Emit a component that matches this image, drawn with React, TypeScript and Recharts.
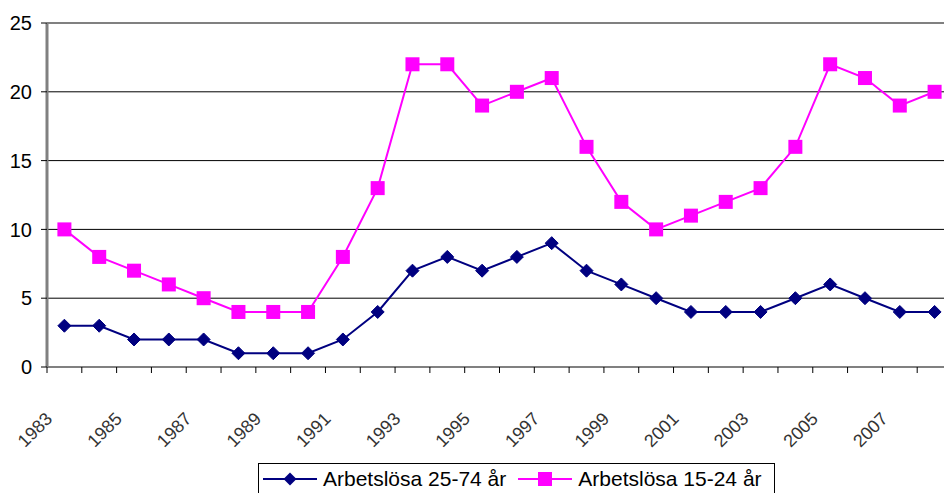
import { LineChart, Line, XAxis, YAxis, CartesianGrid, ReferenceLine } from "recharts";

const years = [
  1983, 1984, 1985, 1986, 1987, 1988, 1989, 1990, 1991, 1992, 1993, 1994, 1995,
  1996, 1997, 1998, 1999, 2000, 2001, 2002, 2003, 2004, 2005, 2006, 2007, 2008,
];
const adults = [3, 3, 2, 2, 2, 1, 1, 1, 2, 4, 7, 8, 7, 8, 9, 7, 6, 5, 4, 4, 4, 5, 6, 5, 4, 4];
const youth = [10, 8, 7, 6, 5, 4, 4, 4, 8, 13, 22, 22, 19, 20, 21, 16, 12, 10, 11, 12, 13, 16, 22, 21, 19, 20];
const yTicks = [0, 5, 10, 15, 20, 25];

const ADULT_LABEL = "Arbetslösa 25-74 år";
const YOUTH_LABEL = "Arbetslösa 15-24 år";
const NAVY = "#000080";
const MAGENTA = "#FF00FF";
const FONT = "'Liberation Sans', Arial, Helvetica, sans-serif";

const CHART_W = 960;
const Y_AXIS_W = 47;
const MARGIN = { top: 23, right: 8, left: 0, bottom: 0 };
const catWidth = (CHART_W - Y_AXIS_W - MARGIN.left - MARGIN.right) / years.length;

// x is the category centre (index + 0.5) so tick marks can sit on the boundaries
const data = years.map((year, i) => ({
  x: i + 0.5,
  year,
  adults: adults[i],
  youth: youth[i],
}));
const boundaryTicks = Array.from({ length: years.length + 1 }, (_, i) => i);

function YearTick(props: any) {
  const { x, y, payload } = props;
  const i = payload.value as number;
  if (i % 2 !== 0 || i >= years.length) return <g />;
  const ax = x + catWidth / 2 - 11;
  const ay = y + 47;
  return (
    <text
      x={ax}
      y={ay}
      transform={`rotate(-45 ${ax} ${ay})`}
      textAnchor="end"
      fontSize={18}
      fontFamily={FONT}
      fill="#333"
    >
      {years[i]}
    </text>
  );
}

function Diamond(props: any) {
  const { cx, cy, index } = props;
  const r = 6.5;
  return (
    <path
      key={`d-${index}`}
      d={`M${cx},${cy - r} L${cx + r},${cy} L${cx},${cy + r} L${cx - r},${cy} Z`}
      fill={NAVY}
      stroke={NAVY}
    />
  );
}

function Square(props: any) {
  const { cx, cy, index } = props;
  const s = 14;
  return <rect key={`s-${index}`} x={cx - s / 2} y={cy - s / 2} width={s} height={s} fill={MAGENTA} />;
}

export default function App() {
  return (
    <div
      style={{
        position: "fixed",
        left: 0,
        top: 0,
        width: 944,
        height: 493,
        overflow: "hidden",
        background: "#fff",
        fontFamily: FONT,
      }}
    >
      <LineChart width={CHART_W} height={493} data={data} margin={MARGIN}>
        <CartesianGrid horizontal vertical={false} stroke="#000" strokeWidth={1} />
        <XAxis
          type="number"
          dataKey="x"
          domain={[0, years.length]}
          ticks={boundaryTicks}
          interval={0}
          height={126}
          tickSize={6}
          tickMargin={0}
          tickLine={{ stroke: "#000" }}
          axisLine={{ stroke: "#808080", strokeWidth: 2 }}
          tick={<YearTick />}
        />
        <YAxis
          domain={[0, 25]}
          ticks={yTicks}
          width={Y_AXIS_W}
          tickSize={6}
          tickMargin={9}
          tickLine={{ stroke: "#000" }}
          axisLine={{ stroke: "#808080", strokeWidth: 3 }}
          tick={{ fill: "#000", fontSize: 20, fontFamily: FONT }}
        />
        <ReferenceLine y={25} stroke="#808080" strokeWidth={2} />
        <Line
          dataKey="youth"
          name={YOUTH_LABEL}
          stroke={MAGENTA}
          strokeWidth={2}
          dot={(p: any) => <Square {...p} key={`s-${p.index}`} />}
          isAnimationActive={false}
        />
        <Line
          dataKey="adults"
          name={ADULT_LABEL}
          stroke={NAVY}
          strokeWidth={2}
          dot={(p: any) => <Diamond {...p} key={`d-${p.index}`} />}
          isAnimationActive={false}
        />
      </LineChart>
      <div
        style={{
          position: "absolute",
          left: 258,
          top: 463,
          width: 517,
          height: 40,
          border: "1px solid #000",
          boxSizing: "border-box",
          display: "flex",
          alignItems: "flex-start",
          paddingTop: 2,
          fontSize: 21,
          color: "#000",
          whiteSpace: "nowrap",
        }}
      >
        <svg width={60} height={26} style={{ marginLeft: 4 }}>
          <line x1={0} y1={13} x2={54} y2={13} stroke={NAVY} strokeWidth={2} />
          <path d="M27,6.5 L33.5,13 L27,19.5 L20.5,13 Z" fill={NAVY} />
        </svg>
        <span style={{ lineHeight: "26px" }}>{ADULT_LABEL}</span>
        <svg width={60} height={26} style={{ marginLeft: 12 }}>
          <line x1={0} y1={13} x2={54} y2={13} stroke={MAGENTA} strokeWidth={2} />
          <rect x={20} y={6} width={14} height={14} fill={MAGENTA} />
        </svg>
        <span style={{ lineHeight: "26px" }}>{YOUTH_LABEL}</span>
      </div>
    </div>
  );
}
